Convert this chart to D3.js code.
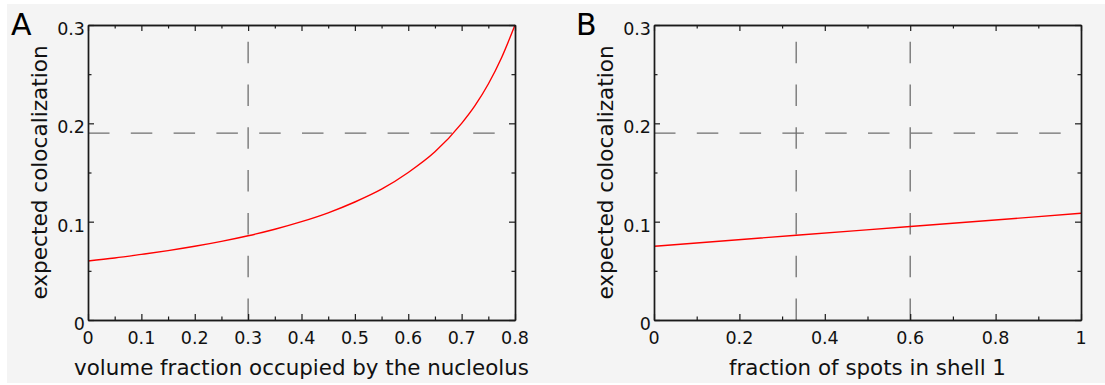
<!DOCTYPE html>
<html>
<head>
<meta charset="utf-8">
<script src="https://cdn.jsdelivr.net/npm/d3@7"></script>
<style>
html,body{margin:0;padding:0;background:#ffffff;}
svg{display:block;font-family:"DejaVu Sans",sans-serif;}
</style>
</head>
<body>
<svg id="chart" width="1105" height="385"></svg>
<script>
// ---- data ----
const volumeFraction = [0, 0.05, 0.1, 0.15, 0.2, 0.25, 0.3, 0.35, 0.4, 0.45, 0.5, 0.55, 0.6, 0.65, 0.7, 0.725, 0.75, 0.775, 0.8];
const colocA = [0.060, 0.063, 0.0667, 0.0706, 0.075, 0.080, 0.0857, 0.0923, 0.100, 0.109, 0.120, 0.133, 0.150, 0.171, 0.200, 0.218, 0.240, 0.267, 0.300];
const spotsFraction = [0, 0.333, 0.6, 1];
const colocB = [0.075, 0.0862, 0.0951, 0.1085];
const refColoc = 0.19;
const refLinesA = [0.3];
const refLinesB = [0.333, 0.6];
const xTicksA = [0, 0.1, 0.2, 0.3, 0.4, 0.5, 0.6, 0.7, 0.8];
const xMinorA = [0.05, 0.15, 0.25, 0.35, 0.45, 0.55, 0.65, 0.75];
const xTicksB = [0, 0.2, 0.4, 0.6, 0.8, 1];
const xMinorB = [0.1, 0.3, 0.5, 0.7, 0.9];
const yTicks = [0, 0.1, 0.2, 0.3];
const yMinor = [0.05, 0.15, 0.25];
const yTickLabels = ["0", "0.1", "0.2", "0.3"];
const xLabelA = "volume fraction occupied by the nucleolus";
const xLabelB = "fraction of spots in shell 1";
const yLabel = "expected colocalization";

const TICK_FONT = 17.5;

const svg = d3.select("#chart");
svg.append("rect").attr("x", 7).attr("y", 4).attr("width", 1098).attr("height", 379).attr("fill", "#f4f4f4");

function fmt(v) { return v === 0 ? "0" : (v === 1 ? "1" : String(v)); }

function panel(opts) {
  const {left, right, top, bottom, xDomain, xVals, yVals, vlines, xTicks, xMinor, xLabel, letter, letterX} = opts;
  const x = d3.scaleLinear().domain(xDomain).range([left, right]);
  const y = d3.scaleLinear().domain([0, 0.3]).range([bottom, top]);
  const g = svg.append("g");

  const dash = "21.5,21.3";
  g.append("line").attr("x1", x(xDomain[0])).attr("x2", x(xDomain[1]))
    .attr("y1", y(refColoc)).attr("y2", y(refColoc))
    .attr("stroke", "#6e6e6e").attr("stroke-width", 1.3).attr("stroke-dasharray", dash);
  vlines.forEach(v => {
    g.append("line").attr("x1", x(v)).attr("x2", x(v))
      .attr("y1", y(0)).attr("y2", y(0.3))
      .attr("stroke", "#6e6e6e").attr("stroke-width", 1.3).attr("stroke-dasharray", dash);
  });

  const line = d3.line().x((d, i) => x(xVals[i])).y(d => y(d)).curve(d3.curveMonotoneX);
  g.append("path").datum(yVals).attr("d", line)
    .attr("fill", "none").attr("stroke", "#ff0000").attr("stroke-width", 1.4);

  const styleAxis = sel => {
    sel.selectAll(".domain").attr("stroke", "#1a1a1a").attr("stroke-width", 1.4);
    sel.selectAll(".tick line").attr("stroke", "#1a1a1a").attr("stroke-width", 1.2);
  };

  const axes = [
    [d3.axisBottom(x).tickValues(xTicks), bottom, true, -6],
    [d3.axisBottom(x).tickValues(xMinor), bottom, true, -3.5],
    [d3.axisTop(x).tickValues(xTicks), top, true, -6],
    [d3.axisTop(x).tickValues(xMinor), top, true, -3.5],
    [d3.axisLeft(y).tickValues(yTicks), left, false, -6],
    [d3.axisLeft(y).tickValues(yMinor), left, false, -3.5],
    [d3.axisRight(y).tickValues(yTicks), right, false, -6],
    [d3.axisRight(y).tickValues(yMinor), right, false, -3.5]
  ];
  axes.forEach(([ax, pos, horiz, size]) => {
    g.append("g").attr("transform", horiz ? `translate(0,${pos})` : `translate(${pos},0)`)
      .call(ax.tickFormat("").tickSize(size).tickSizeOuter(0))
      .call(styleAxis);
  });

  g.append("g").selectAll("text").data(xTicks).join("text")
    .attr("x", d => x(d)).attr("y", bottom + 23.5)
    .attr("text-anchor", "middle").attr("fill", "#111")
    .attr("font-size", TICK_FONT)
    .text(fmt);
  g.append("g").selectAll("text").data(yTicks).join("text")
    .attr("x", left - 3).attr("y", d => y(d) + 10)
    .attr("text-anchor", "end").attr("fill", "#111")
    .attr("font-size", TICK_FONT)
    .text((d, i) => yTickLabels[i]);

  g.append("text").attr("x", (left + right) / 2).attr("y", 375)
    .attr("text-anchor", "middle").attr("fill", "#111").attr("font-size", 21.4).text(xLabel);
  g.append("text").attr("transform", `translate(${left - 41},${(top + bottom) / 2}) rotate(-90)`)
    .attr("text-anchor", "middle").attr("fill", "#111").attr("font-size", 21.6).text(yLabel);
  g.append("text").attr("x", letterX).attr("y", 35)
    .attr("fill", "#000").attr("font-size", 30).text(letter);
}

panel({left: 88, right: 515, top: 25, bottom: 320, xDomain: [0, 0.8], xVals: volumeFraction, yVals: colocA,
  vlines: refLinesA, xTicks: xTicksA, xMinor: xMinorA, xLabel: xLabelA, letter: "A", letterX: 11});
panel({left: 654, right: 1081, top: 25, bottom: 320, xDomain: [0, 1], xVals: spotsFraction, yVals: colocB,
  vlines: refLinesB, xTicks: xTicksB, xMinor: xMinorB, xLabel: xLabelB, letter: "B", letterX: 576});
</script>
</body>
</html>
